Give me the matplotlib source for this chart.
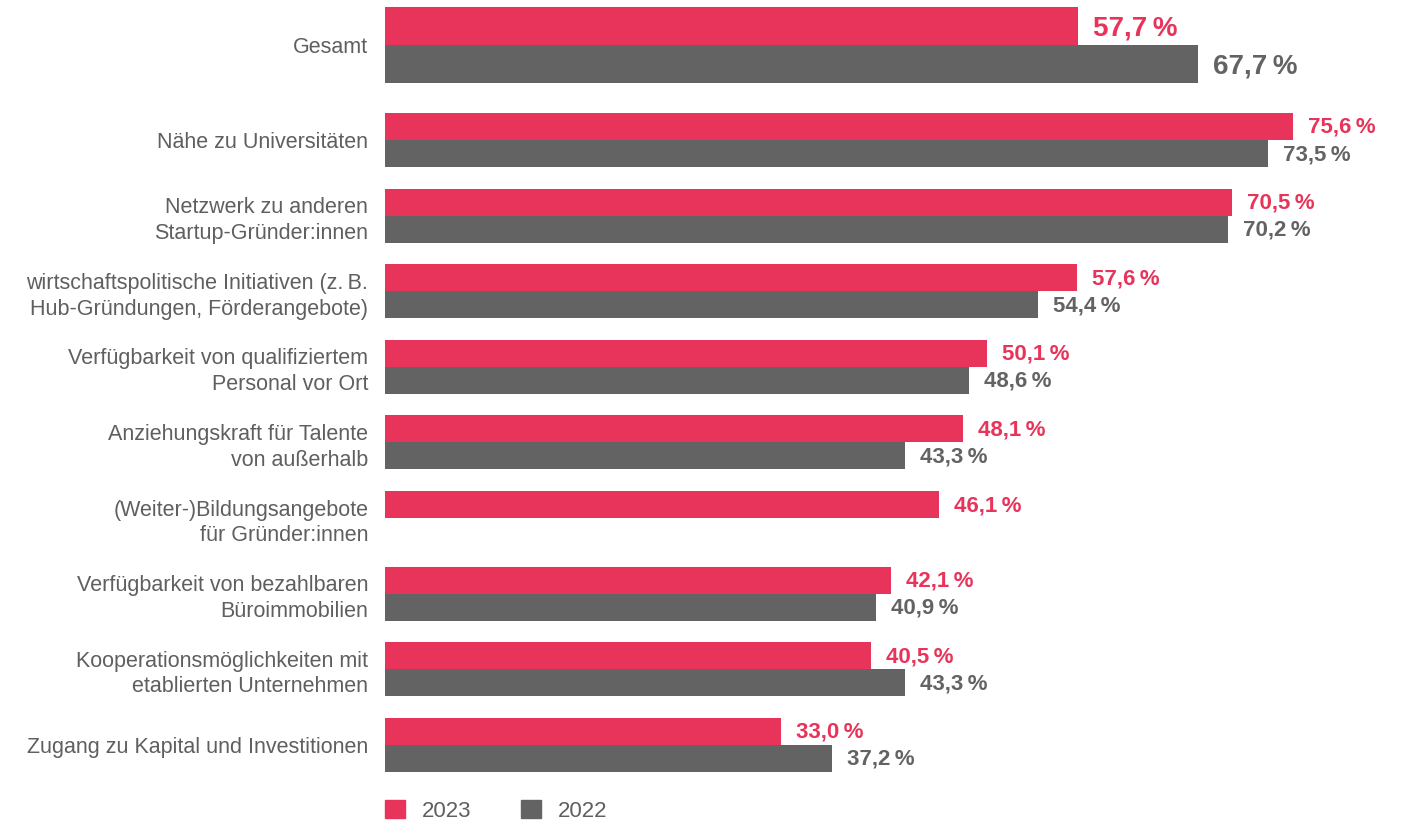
import numpy as np
import matplotlib.pyplot as plt
from matplotlib.patches import Patch

plt.rcParams['font.family'] = ['Liberation Sans', 'DejaVu Sans']

categories = [
    "Gesamt",
    "Nähe zu Universitäten",
    "Netzwerk zu anderen\nStartup-Gründer:innen",
    "wirtschaftspolitische Initiativen (z.\u2009B.\nHub-Gründungen, Förderangebote)",
    "Verfügbarkeit von qualifiziertem\nPersonal vor Ort",
    "Anziehungskraft für Talente\nvon außerhalb",
    "(Weiter-)Bildungsangebote\nfür Gründer:innen",
    "Verfügbarkeit von bezahlbaren\nBüroimmobilien",
    "Kooperationsmöglichkeiten mit\netablierten Unternehmen",
    "Zugang zu Kapital und Investitionen",
]
values_2023 = [57.7, 75.6, 70.5, 57.6, 50.1, 48.1, 46.1, 42.1, 40.5, 33.0]
values_2022 = [67.7, 73.5, 70.2, 54.4, 48.6, 43.3, np.nan, 40.9, 43.3, 37.2]

red = '#e8345a'
grey = '#636363'
text_grey = '#5f5f5f'

W, H = 1402, 822
fig = plt.figure(figsize=(W / 100, H / 100), dpi=100)
ax = fig.add_axes([385 / W, 0, 1017 / W, 1])
ax.set_xlim(0, 1017 / 12.01)
ax.set_ylim(H, 0)

# row centres in pixel units (first row is the bigger "Gesamt" block)
centers = [45] + [140 + i * 75.6 for i in range(len(categories) - 1)]
heights = [38] + [27] * (len(categories) - 1)

def fmt(v):
    return '{:.1f}'.format(v).replace('.', ',') + '\u2009%'

for i, (c, h) in enumerate(zip(centers, heights)):
    v23, v22 = values_2023[i], values_2022[i]
    big = i == 0
    fs = 20 if big else 16
    off = 1.25
    ax.barh(c - h / 2, v23, height=h, color=red, linewidth=0)
    ax.text(v23 + off, c - h / 2 + (2 if big else 1), fmt(v23), color=red,
            fontsize=fs, fontweight='bold', va='center', ha='left')
    if not np.isnan(v22):
        ax.barh(c + h / 2, v22, height=h, color=grey, linewidth=0)
        ax.text(v22 + off, c + h / 2 + (3 if big else 1), fmt(v22), color=grey,
                fontsize=fs, fontweight='bold', va='center', ha='left')

ax.set_yticks(centers)
ax.set_yticklabels(categories, fontsize=15.5, color=text_grey, linespacing=1.3)
ax.tick_params(axis='y', length=0, pad=12)
ax.set_xticks([])
for s in ax.spines.values():
    s.set_visible(False)

handles = [Patch(color=red, label='2023'), Patch(color=grey, label='2022')]
leg = ax.legend(handles=handles, loc='upper left', bbox_to_anchor=(0, 1 - 800 / H),
                ncol=2, frameon=False, fontsize=16, borderpad=0, borderaxespad=0,
                handlelength=0.9, handleheight=0.9, handletextpad=0.77,
                columnspacing=2.2)
for t in leg.get_texts():
    t.set_color(text_grey)

fig.savefig('out.png', dpi=100)
